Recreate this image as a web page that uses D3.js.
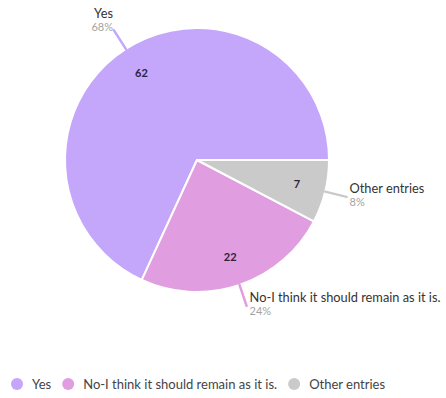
<!DOCTYPE html>
<html><head><meta charset="utf-8">
<script src="https://cdn.jsdelivr.net/npm/d3@7"></script>
<style>body{margin:0;background:#fff;} svg{display:block;}</style>
</head><body>
<svg id="c" width="446" height="398"></svg>
<script>
const categories = ["Yes", "No-I think it should remain as it is.", "Other entries"];
const values = [62, 22, 7];
const colors = ["#c4a6fb", "#e09ddf", "#cacaca"];

const W = 446, H = 398, cx = 197, cy = 160, R = 132;
const font = "Lato, 'Open Sans', sans-serif";
const svg = d3.select("#c");
const total = d3.sum(values);
const data = categories.map((c, i) => ({c, v: values[i], col: colors[i]}));

const pie = d3.pie().value(d => d.v).sort(null)
  .startAngle(Math.PI / 2).endAngle(Math.PI / 2 - 2 * Math.PI);
const arcs = pie(data);
const arc = d3.arc().innerRadius(0).outerRadius(R);
const g = svg.append("g").attr("transform", `translate(${cx},${cy})`);

g.selectAll("path.s").data(arcs).join("path")
  .attr("d", arc).attr("fill", d => d.data.col)
  .attr("stroke", "#fff").attr("stroke-width", 2).attr("stroke-linejoin", "round");

const mid = d => (d.startAngle + d.endAngle) / 2;
const pt = (a, r) => [Math.sin(a) * r, -Math.cos(a) * r];

// value labels
g.selectAll("text.v").data(arcs).join("text")
  .attr("x", d => pt(mid(d), R * 0.78)[0])
  .attr("y", d => pt(mid(d), R * 0.78)[1])
  .attr("dy", "0.35em").attr("text-anchor", "middle")
  .attr("font-family", font).attr("font-size", 11).attr("font-weight", 700)
  .attr("fill", "#2a2440").text(d => d.data.v);

// leader lines
g.selectAll("line.l").data(arcs).join("line")
  .attr("x1", d => pt(mid(d), R)[0]).attr("y1", d => pt(mid(d), R)[1])
  .attr("x2", d => pt(mid(d), R + 22)[0]).attr("y2", d => pt(mid(d), R + 22)[1])
  .attr("stroke", d => d.data.col).attr("stroke-width", 2.5).attr("stroke-linecap", "round");

// outer labels
arcs.forEach(d => {
  const [x, y] = pt(mid(d), R + 22);
  const left = x < 0;
  const tx = left ? x - 1 : x + 3;
  const anchor = left ? "end" : "start";
  const y1 = left ? y - 12 : y - 4;
  g.append("text").attr("x", tx).attr("y", y1).attr("text-anchor", anchor)
    .attr("font-family", font).attr("font-size", 12.8).attr("fill", "#333")
    .text(d.data.c);
  g.append("text").attr("x", tx).attr("y", y1 + 13).attr("text-anchor", anchor)
    .attr("font-family", font).attr("font-size", 11).attr("fill", "#a3a3a3")
    .text(Math.round(d.data.v / total * 100) + "%");
});

// legend
const lg = svg.append("g").attr("transform", "translate(0,384)");
let lx = 17;
data.forEach(d => {
  lg.append("circle").attr("cx", lx).attr("cy", 0).attr("r", 6).attr("fill", d.col);
  const t = lg.append("text").attr("x", lx + 15).attr("y", 0).attr("dy", "0.35em")
    .attr("font-family", font).attr("font-size", 13).attr("fill", "#444").text(d.c);
  lx += 15 + t.node().getComputedTextLength() + 17;
});
</script>
</body></html>
